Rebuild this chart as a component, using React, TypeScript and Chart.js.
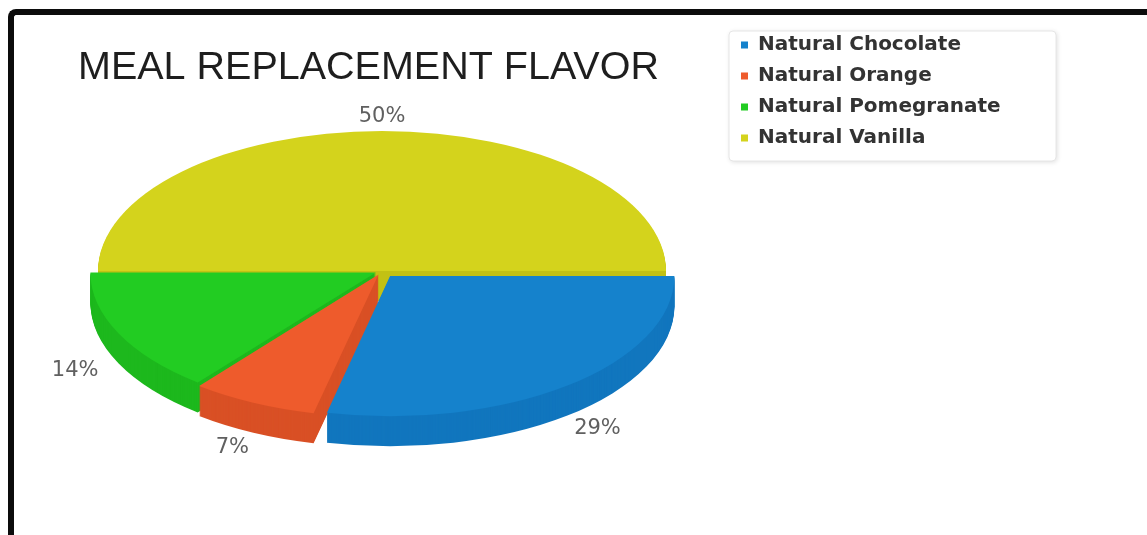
import React, { useEffect, useRef } from "react";
import { Chart, registerables } from "chart.js";

Chart.register(...registerables);

// ---- data ----
const categories = ["Natural Chocolate", "Natural Orange", "Natural Pomegranate", "Natural Vanilla"];
const counts = [4, 1, 2, 7];
const percentLabels = ["29%", "7%", "14%", "50%"];
const topColors = ["#1582cc", "#ee5b2c", "#22cc22", "#d4d31c"];
const sideColors = ["#1176be", "#d95025", "#1db81d", "#c2c114"];
const explode = [42, 26, 22, 0];
const chartTitle = "MEAL REPLACEMENT FLAVOR";

// ---- view of the tilted pie ----
const VIEW = { cx: 382, cy: 271, rx: 284, ry: 140, depth: 30 };
const LEGEND_FONT = { family: "'DejaVu Sans', sans-serif", size: 20, weight: "bold" as const };
const LEGEND_LEFT = 730;
const LEGEND_PAD = 11;
const LEGEND_BOX = 7;

const pie3d = {
  id: "pie3d",
  beforeDraw(chart: any) {
    const ctx = chart.ctx as CanvasRenderingContext2D;
    // title
    ctx.save();
    ctx.font = "39.5px 'Liberation Sans', Arial, sans-serif";
    ctx.fillStyle = "#1e1e1e";
    ctx.textBaseline = "alphabetic";
    ctx.textAlign = "left";
    ctx.fillText(chartTitle, 78, 79);
    ctx.restore();
    // legend frame
    const lg = chart.legend;
    if (lg && lg.legendHitBoxes && lg.legendHitBoxes.length) {
      const boxes = lg.legendHitBoxes;
      const last = boxes[boxes.length - 1];
      const x0 = lg.left - 1;
      const y0 = lg.top + 7;
      const x1 = lg.left + 326;
      const y1 = last.top + last.height + 13;
      ctx.save();
      ctx.beginPath();
      const r = 4;
      ctx.moveTo(x0 + r, y0);
      ctx.lineTo(x1 - r, y0);
      ctx.arcTo(x1, y0, x1, y0 + r, r);
      ctx.lineTo(x1, y1 - r);
      ctx.arcTo(x1, y1, x1 - r, y1, r);
      ctx.lineTo(x0 + r, y1);
      ctx.arcTo(x0, y1, x0, y1 - r, r);
      ctx.lineTo(x0, y0 + r);
      ctx.arcTo(x0, y0, x0 + r, y0, r);
      ctx.closePath();
      ctx.shadowColor = "rgba(0,0,0,0.14)";
      ctx.shadowBlur = 5;
      ctx.shadowOffsetX = 1;
      ctx.shadowOffsetY = 1;
      ctx.fillStyle = "#ffffff";
      ctx.fill();
      ctx.shadowColor = "transparent";
      ctx.strokeStyle = "#e6e6e6";
      ctx.lineWidth = 1;
      ctx.stroke();
      ctx.restore();
    }
  },
  beforeDatasetsDraw(chart: any) {
    const meta = chart.getDatasetMeta(0);
    const arcs = meta.data;
    const r = meta.controller.outerRadius;
    const sx = VIEW.rx / r;
    const sy = VIEW.ry / r;
    const ctx = chart.ctx as CanvasRenderingContext2D;
    ctx.save();
    ctx.translate(VIEW.cx, VIEW.cy);
    ctx.scale(sx, sy);
    ctx.translate(-arcs[0].x, -arcs[0].y);
    // side walls: the library's arcs, drawn again lower in a darker shade
    const order = [3, 2, 0, 1];
    for (const i of order) {
      const el = arcs[i];
      const wall = Object.create(el);
      wall.options = Object.assign({}, el.options, { backgroundColor: sideColors[i], borderWidth: 0 });
      for (let d = VIEW.depth; d >= 1; d--) {
        ctx.save();
        ctx.translate(0, d / sy);
        wall.draw(ctx);
        ctx.restore();
      }
    }
  },
  afterDatasetsDraw(chart: any) {
    const ctx = chart.ctx as CanvasRenderingContext2D;
    ctx.restore();
    const meta = chart.getDatasetMeta(0);
    const arcs = meta.data;
    const r = meta.controller.outerRadius;
    const sx = VIEW.rx / r;
    const sy = VIEW.ry / r;
    ctx.save();
    ctx.font = "21px 'DejaVu Sans', sans-serif";
    ctx.fillStyle = "#606060";
    ctx.textAlign = "center";
    ctx.textBaseline = "middle";
    arcs.forEach((el: any, i: number) => {
      const h = (el.startAngle + el.endAngle) / 2;
      const circ = el.endAngle - el.startAngle;
      const off = (el.options.offset || 0) / 4;
      const t = off * (1 + (1 - Math.sin(Math.min(Math.PI, circ))));
      const c = Math.cos(h);
      const s = Math.sin(h);
      const k = s > 0 ? 1.12 : 1.1;
      const x = VIEW.cx + 1.17 * VIEW.rx * c + sx * t * c;
      const y = VIEW.cy + k * VIEW.ry * s + sy * t * s + (s > 0 ? VIEW.depth : 0);
      ctx.fillText(percentLabels[i], x, y);
    });
    ctx.restore();
  },
};

export default function App() {
  const ref = useRef<HTMLCanvasElement>(null);
  useEffect(() => {
    const canvas = ref.current;
    if (!canvas) return;
    const m = document.createElement("canvas").getContext("2d")!;
    m.font = `bold ${LEGEND_FONT.size}px ${LEGEND_FONT.family}`;
    const maxW = Math.max(...categories.map((c) => m.measureText(c).width));
    const legendWidth = LEGEND_PAD + LEGEND_BOX + LEGEND_FONT.size / 2 + maxW + 10;
    const padRight = 1147 - (LEGEND_LEFT + legendWidth);
    const chart = new Chart(canvas, {
      type: "pie",
      data: {
        labels: categories,
        datasets: [
          {
            data: counts,
            backgroundColor: topColors,
            borderWidth: 0,
            offset: explode,
            hoverOffset: 0,
          },
        ],
      },
      options: {
        responsive: false,
        animation: false,
        rotation: 90,
        events: [],
        layout: { padding: { left: 10, top: 24, right: padRight, bottom: 10 } },
        plugins: {
          title: { display: false },
          tooltip: { enabled: false },
          legend: {
            position: "right",
            align: "start",
            labels: {
              boxWidth: LEGEND_BOX,
              boxHeight: LEGEND_BOX,
              padding: LEGEND_PAD,
              color: "#333333",
              font: LEGEND_FONT,
            },
          },
        },
      },
      plugins: [pie3d],
    } as any);
    return () => chart.destroy();
  }, []);
  return (
    <div style={{ position: "absolute", left: 0, top: 0, width: 1147, height: 535, overflow: "hidden", background: "#ffffff" }}>
      <div
        style={{
          position: "absolute",
          left: 8,
          top: 9,
          width: 1200,
          height: 600,
          borderTop: "6px solid #0c0c0c",
          borderLeft: "6px solid #0c0c0c",
          borderTopLeftRadius: 8,
          boxSizing: "border-box",
        }}
      />
      <canvas ref={ref} width={1147} height={535} style={{ position: "absolute", left: 0, top: 0, width: 1147, height: 535 }} />
    </div>
  );
}
